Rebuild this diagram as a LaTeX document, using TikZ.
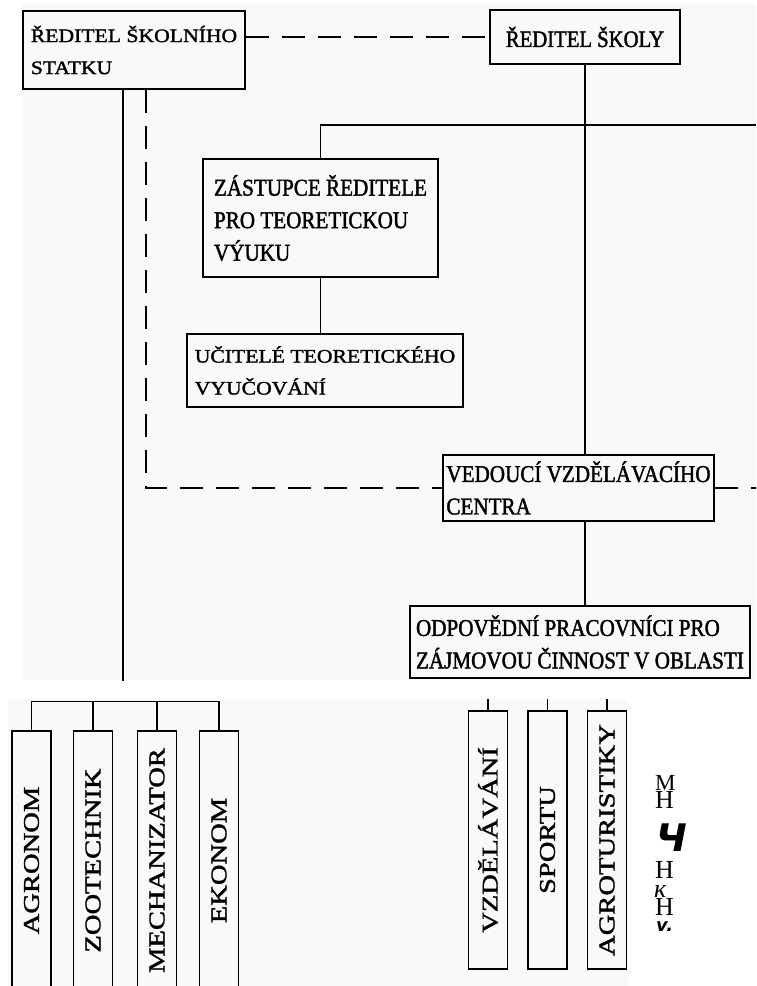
\documentclass[tikz,border=0pt]{standalone}
\usepackage{fontspec}
\setmainfont{Liberation Serif}
\newfontfamily\boxfont[FakeStretch=1.14,FakeBold=1.6]{Liberation Serif}
\newfontfamily\tallfont[FakeStretch=0.88,FakeBold=1.6]{Liberation Serif}
\newfontfamily\colfont[FakeStretch=1.27,FakeBold=1.6]{Liberation Serif}
\newfontfamily\dvsans{DejaVu Sans}
\usetikzlibrary{calc}

\begin{document}
\begin{tikzpicture}[x=1pt, y=-1pt,
    box/.style={draw, line width=1.5pt, align=left, inner xsep=2pt, inner ysep=2pt,
                font=\boxfont\fontsize{19}{32}\selectfont},
    tall/.style={font=\tallfont\fontsize{24}{32.5}\selectfont},
    col/.style={draw, line width=1.5pt, rotate=90, minimum height=39pt, inner sep=0pt,
                font=\colfont\fontsize{22.5}{24}\selectfont},
    link/.style={line width=1.3pt},
    dashlink/.style={line width=1.3pt, dash pattern=on 23pt off 13pt},
    scan/.style={fill=black!2.5},
    stray/.style={anchor=base west, inner sep=0pt}
  ]
  \useasboundingbox (0,0) rectangle (756,986);
  \clip (0,0) rectangle (756,986);
  \fill[scan] (22,4) rectangle (756,680);
  \fill[scan] (8,700) rectangle (628,986);

  \node[box, minimum width=222pt, minimum height=78pt] (stat) at (134,50) {ŘEDITEL ŠKOLNÍHO\\STATKU};
  \node[box, tall, font=\tallfont\fontsize{23.5}{32}\selectfont, minimum width=190pt, minimum height=54pt] (skola) at (585,37) {ŘEDITEL ŠKOLY};
  \node[box, tall, minimum width=235pt, minimum height=118pt] (zast) at (320.5,218) {ZÁSTUPCE ŘEDITELE\\PRO TEORETICKOU\\VÝUKU};
  \node[box, minimum width=276pt, minimum height=73pt] (ucit) at (325,370.5) {UČITELÉ TEORETICKÉHO\\VYUČOVÁNÍ};
  \node[box, tall, minimum width=271pt, minimum height=66pt] (vedouci) at (578.5,488) {VEDOUCÍ VZDĚLÁVACÍHO\\CENTRA};
  \node[box, tall, minimum width=340pt, minimum height=72pt] (odpov) at (580,642) {ODPOVĚDNÍ PRACOVNÍCI PRO\\ZÁJMOVOU ČINNOST V OBLASTI};

  \coordinate (brR) at (756,125);
  \draw[dashlink] (stat.east |- skola.west) -- (skola.west);
  \draw[link] (skola.south) -- (skola.south |- vedouci.north);
  \draw[link] (zast.north) |- (brR);
  \draw[link] (zast.south) -- (zast.south |- ucit.north);
  \draw[link] ($(stat.south)+(-11,0)$) -- ++(0,591);
  \draw[dashlink] ($(stat.south)+(12,0)$) |- (vedouci.west);
  \draw[dashlink] (vedouci.east) -- ++(45,0);
  \draw[link] (skola.south |- vedouci.south) -- (skola.south |- odpov.north);

  \node[col, minimum width=259pt] (agr) at (31.5,860.5) {AGRONOM};
  \node[col, minimum width=259pt] (zoo) at (93,860.5) {ZOOTECHNIK};
  \node[col, minimum width=259pt] (mech) at (157,860.5) {MECHANIZATOR};
  \node[col, minimum width=259pt] (eko) at (219,860.5) {EKONOM};
  \node[col, minimum width=258pt] (vzd) at (488,840) {VZDĚLÁVÁNÍ};
  \node[col, minimum width=258pt] (sport) at (547.5,840) {SPORTU};
  \node[col, minimum width=258pt] (agrot) at (607,840) {AGROTURISTIKY};

  \draw[link] (agr.east) -- ++(0,-29) -| (eko.east);
  \draw[link] (zoo.east) -- ++(0,-29);
  \draw[link] (mech.east) -- ++(0,-29);
  \foreach \n in {vzd,sport,agrot}
    \draw[link] (\n.east) -- ++(0,-11);

  \node[stray, font=\fontsize{23}{23}\selectfont] (s1) at (655,790) {М};
  \node[stray, font=\fontsize{26}{26}\selectfont] (s2) at (655,808) {Н};
  \node[stray, font=\dvsans\bfseries\itshape\fontsize{38}{38}\selectfont] (s3) at (656,851) {Ч};
  \node[stray, font=\fontsize{26}{26}\selectfont] (s4) at (655,878) {Н};
  \node[stray, font=\itshape\fontsize{26}{26}\selectfont] (s5) at (654,897) {к};
  \node[stray, font=\fontsize{26}{26}\selectfont] (s6) at (655,915) {Н};
  \node[stray, font=\dvsans\bfseries\itshape\fontsize{18}{18}\selectfont] (s7) at (656,931) {v.};
\end{tikzpicture}
\end{document}
